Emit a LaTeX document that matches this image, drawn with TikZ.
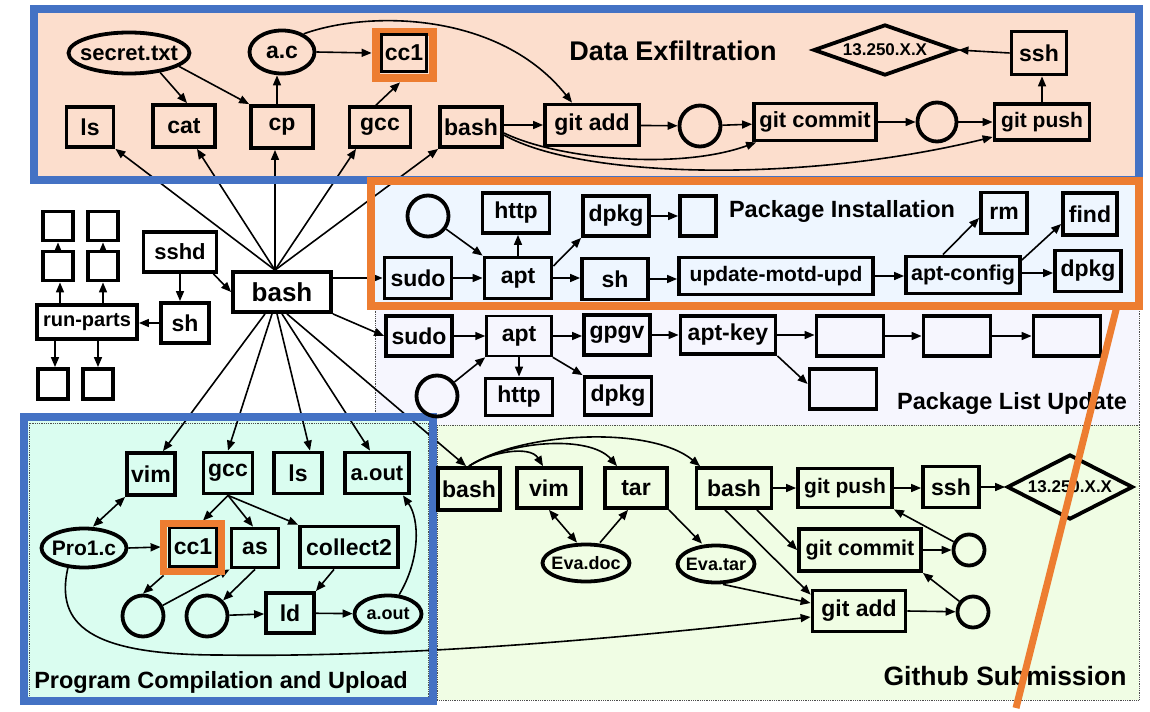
\documentclass[tikz,border=0pt]{standalone}
\usepackage{fontspec}
\setmainfont{Liberation Sans}
\usetikzlibrary{arrows.meta,shapes.geometric,calc}
\pgfdeclarelayer{bg}
\pgfdeclarelayer{edges}
\pgfdeclarelayer{frames}
\pgfdeclarelayer{fg}
\pgfsetlayers{bg,edges,frames,main,fg}

\definecolor{peach}{RGB}{252,222,205}
\definecolor{pkgblue}{RGB}{238,246,255}
\definecolor{lav}{RGB}{246,246,254}
\definecolor{grn}{RGB}{240,253,228}
\definecolor{mint}{RGB}{218,253,240}
\definecolor{bord}{RGB}{68,114,196}
\definecolor{org}{RGB}{237,125,49}

\newcommand\fs[1]{\fontsize{#1}{#1}\selectfont\bfseries}

\begin{document}
\begin{tikzpicture}[x=1pt,y=-1pt,
  bx/.style 2 args={draw, line width=3.8pt, inner sep=0pt, font=\fs{23},
    minimum width=#1pt, minimum height=#2pt},
  el/.style n args={4}{ellipse, draw, line width=3.8pt, inner sep=0pt,
    minimum width=#1pt, minimum height=#2pt, label={[font=\fs{#3}]center:#4}},
  dm/.style n args={3}{diamond, draw, line width=3.8pt, inner sep=0pt,
    minimum width=#1pt, minimum height=#2pt, label={[font=\fs{17}]center:#3}},
  ci/.style={circle, draw, line width=3.8pt, inner sep=0pt, minimum size=#1pt},
  ar/.style={-{Triangle[length=10pt,width=8pt]}, line width=1.6pt},
  dar/.style={{Triangle[length=10pt,width=8pt]}-{Triangle[length=10pt,width=8pt]}, line width=1.6pt},
  region/.style={densely dotted, line width=0.8pt, draw=black!70}
]

% ---------- regions ----------
\begin{pgfonlayer}{bg}
  \fill[white] (0,0) rectangle (1150,705);
  \fill[peach] (34,9) rectangle (1139,180);
  \path[fill=lav, region] (375,181) rectangle (1139,425);
  \path[fill=grn, region] (437,425) rectangle (1139,700);
  \fill[mint] (24,417) rectangle (433,701);
  \draw[region] (29,423) rectangle (428,698);
  \fill[pkgblue] (371,181) rectangle (1139,306);
\end{pgfonlayer}
\begin{pgfonlayer}{frames}
  \draw[bord, line width=7.5pt] (34,9) rectangle (1139,180);
  \draw[bord, line width=8pt] (24,417) rectangle (433,701);
  \draw[org, line width=8pt] (371,181) rectangle (1139,306);
  \draw[org, line width=8pt] (376,32) rectangle (432.5,78);
\end{pgfonlayer}

% ---------- Data Exfiltration ----------
\node[el={121}{41}{22}{secret.txt}] (secret) at (129,53) {};
\node[el={65}{43}{23}{a.c}] (ac) at (282,52) {};
\node[bx={45}{37}] (cc1) at (404,53) {cc1};
\node[bx={47}{40}] (ls1) at (90,127) {ls};
\node[bx={62}{42}] (cat) at (184,126) {cat};
\node[bx={62}{42}] (cp) at (282,127) {cp};
\node[bx={61}{40}] (gcc1) at (380,127) {gcc};
\node[bx={62}{40}] (bash1) at (471,127) {bash};
\node[bx={94}{41}] (ga1) at (592,125) {git add};
\node[ci=41] (c1) at (700,126) {};
\node[bx={122}{37}, font=\fs{22}] (gc1) at (815,122) {git commit};
\node[ci=39] (c2) at (937,122) {};
\node[bx={95}{36}, font=\fs{21}] (gp1) at (1042,122) {git push};
\node[bx={55}{43}] (ssh1) at (1039,53) {ssh};
\node[dm={143}{51}{13.250.X.X}] (dia1) at (885,50) {};
\node[font=\fs{27}] (t-exfil) at (673,51) {Data Exfiltration};

% ---------- central shell ----------
\node[bx={98}{40}, font=\fs{26}] (mb) at (282,292) {bash};
\node[bx={73}{40}, font=\fs{22}] (sshd) at (180,252) {sshd};
\node[bx={48}{40}] (sh0) at (185,323) {sh};
\node[bx={100}{34}, font=\fs{20}] (rp) at (87,322) {run-parts};
\node[bx={30}{29}] (A1) at (58,226) {};
\node[bx={30}{29}] (A2) at (103,226) {};
\node[bx={30}{29}] (B1) at (58,266) {};
\node[bx={30}{29}] (B2) at (103,266) {};
\node[bx={30}{30}] (D1) at (53,384) {};
\node[bx={30}{30}] (D2) at (98,384) {};

% ---------- Package Installation ----------
\node[ci=41] (p1) at (428,216) {};
\node[bx={67}{40}] (http1) at (516,213) {http};
\node[bx={66}{40}] (dpkg1) at (616,216) {dpkg};
\node[bx={36}{40}] (sb) at (698,216) {};
\node[bx={67}{41}] (sudo1) at (418,278) {sudo};
\node[bx={67}{41}] (apt1) at (518,278) {apt};
\node[bx={66}{41}] (sh1) at (615,279) {sh};
\node[bx={194}{37}, font=\fs{21}] (upd) at (776,276) {update-motd-upd};
\node[bx={114}{37}, font=\fs{21.5}] (aptc) at (963,275) {apt-config};
\node[bx={46}{41}] (rm) at (1004,213) {rm};
\node[bx={54}{42}] (find) at (1090,214) {find};
\node[bx={66}{41}] (dpkg3) at (1088,271) {dpkg};
\node[font=\fs{23.5}] (t-inst) at (842,211) {Package Installation};

% ---------- Package List Update ----------
\node[bx={66}{40}] (sudo2) at (419,336) {sudo};
\node[bx={65}{40}, line width=2.5pt] (apt2) at (519,336) {apt};
\node[bx={66}{40}] (gpgv) at (617,335) {gpgv};
\node[bx={95}{38}] (aptkey) at (728,335) {apt-key};
\node[bx={67}{40}] (E1) at (850,336) {};
\node[bx={67}{40}] (E2) at (957,336) {};
\node[bx={67}{40}] (E3) at (1067,336) {};
\node[bx={67}{40}] (E4) at (843,389) {};
\node[ci=41] (p2) at (437,396) {};
\node[bx={67}{37}] (http2) at (519,397) {http};
\node[bx={67}{38}] (dpkg2) at (618,396) {dpkg};
\node[font=\fs{23.5}] (t-list) at (1012,403) {Package List Update};

% ---------- Program Compilation and Upload ----------
\node[bx={48}{42}] (vim2) at (151,474) {vim};
\node[bx={49}{41}] (gcc2) at (228,473) {gcc};
\node[bx={48}{41}] (ls2) at (298,473) {ls};
\node[bx={64}{41}, font=\fs{22}] (aout) at (377,473) {a.out};
\node[el={85}{39}{21}{Pro1.c}] (pro) at (84,548) {};
\node[bx={47}{39}] (cc1b) at (193,547) {cc1};
\node[bx={47}{39}] (as) at (255,548) {as};
\node[bx={98}{41}] (col2) at (349,547) {collect2};
\node[ci=41] (cc1o) at (143,616) {};
\node[ci=41] (cc2o) at (207,616) {};
\node[bx={48}{40}] (ld) at (290,613) {ld};
\node[el={67}{37}{18}{a.out}] (aout2) at (388,614) {};
\node[font=\fs{23.5}] (t-comp) at (221,682) {Program Compilation and Upload};

% ---------- Github Submission ----------
\node[bx={62}{42}] (gb1) at (469,489) {bash};
\node[bx={64}{40}] (vim3) at (549,488) {vim};
\node[bx={62}{40}] (tar) at (636,488) {tar};
\node[bx={75}{40}] (gb2) at (734,488) {bash};
\node[el={87}{37}{18}{Eva.doc}] (evadoc) at (586,563) {};
\node[el={77}{37}{18}{Eva.tar}] (evatar) at (716,564) {};
\node[bx={94}{39}, font=\fs{21}] (gpG) at (845,488) {git push};
\node[bx={56}{41}] (sshG) at (951,487) {ssh};
\node[dm={126}{65}{13.250.X.X}] (diaG) at (1070,487) {};
\node[bx={122}{42}, font=\fs{21.5}] (gcG) at (860,550) {git commit};
\node[ci=31] (cg1) at (969,550) {};
\node[bx={93}{41}] (gaG) at (859,611) {git add};
\node[ci=31] (cg2) at (973,612) {};
\node[font=\fs{26.5}] (t-git) at (1005,676) {Github Submission};

% ---------- connectors ----------
\begin{pgfonlayer}{edges}
  % data exfiltration
  \draw[ar] (secret.-32) -- ([xshift=3pt]cat.north);
  \draw[ar] (secret.-15) -- (cp.north west);
  \draw[ar] ([xshift=-5pt]cp.north) -- ([xshift=-5pt]cp.north |- ac.south);
  \draw[ar] (ac.east) -- ([xshift=-8pt]cc1.west);
  \draw[ar] ([xshift=-4pt]gcc1.north) -- ([xshift=-4pt,yshift=-9pt]cc1.south);
  \draw[ar] (ac.40) .. controls (370,10) and (500,12) .. ([xshift=-20pt]ga1.north);
  \draw[ar] (bash1.east |- ga1.west) -- (ga1.west);
  \draw[ar] (ga1) -- (c1);
  \draw[ar] (c1) -- (gc1);
  \draw[ar] (gc1) -- (c2);
  \draw[ar] (c2) -- (gp1);
  \draw[ar] ([yshift=-6pt]bash1.east) .. controls (560,160) and (680,170) .. ([xshift=4pt]gc1.south west);
  \draw[ar] ([yshift=-8pt]bash1.east) .. controls (580,178) and (800,184) .. ([yshift=-15pt]gp1.west);
  \draw[ar] (gp1.north) -- (gp1.north |- ssh1.south);
  \draw[ar] (ssh1.west) -- (dia1.east);

  % central shell fan-out
  \draw[ar] ([xshift=-7pt]mb.north) -- (ls1.south east);
  \draw[ar] ([xshift=-7pt]mb.north) -- ([xshift=13pt]cat.south);
  \draw[ar] ([xshift=-7pt]mb.north) -- ([xshift=-7pt]cp.south);
  \draw[ar] ([xshift=-7pt]mb.north) -- ([xshift=-24pt]gcc1.south);
  \draw[ar] ([xshift=-7pt]mb.north) -- (bash1.south west);
  \draw[ar] (mb.east |- sudo1.west) -- (sudo1.west);
  \draw[ar] (mb.south east) -- (sudo2.west);
  \draw[ar] ([xshift=-17pt]mb.south) -- ([xshift=12pt]vim2.north);
  \draw[ar] ([xshift=-10pt]mb.south) -- (gcc2.north);
  \draw[ar] ([xshift=-5pt]mb.south) -- ([xshift=12pt]ls2.north);
  \draw[ar] (mb.south) -- ([xshift=-7pt]aout.north);
  \draw[ar] ([xshift=5pt]mb.south) -- ([xshift=-3pt]gb1.north);

  \draw[ar] ([xshift=-5pt]sshd.south east) -- (mb.west);
  \draw[ar] (sshd.south) -- (sshd.south |- sh0.north);
  \draw[ar] (sh0.west) -- (sh0.west -| rp.east);
  \draw[ar] ([xshift=2pt]B1.south |- rp.north) -- ([xshift=2pt]B1.south);
  \draw[ar] (B2.south |- rp.north) -- (B2.south);
  \draw[ar] (B1.north) -- (A1.south);
  \draw[ar] (B2.north) -- (A2.south);
  \draw[ar] ([xshift=2pt]D1.north |- rp.south) -- ([xshift=2pt]D1.north);
  \draw[ar] (D2.north |- rp.south) -- (D2.north);

  % package installation
  \draw[ar] (p1) -- (apt1.north west);
  \draw[ar] (apt1.north) -- (apt1.north |- http1.south);
  \draw[ar] ([yshift=12pt]apt1.east) -- (dpkg1.south west);
  \draw[ar] (dpkg1.east) -- (dpkg1.east -| sb.west);
  \draw[ar] (sudo1.east) -- (sudo1.east -| apt1.west);
  \draw[ar] (apt1.east) -- (apt1.east -| sh1.west);
  \draw[ar] (sh1.east) -- (sh1.east -| upd.west);
  \draw[ar] (upd.east) -- (upd.east -| aptc.west);
  \draw[ar] ([xshift=-20pt]aptc.north) -- ([yshift=-5pt]rm.west);
  \draw[ar] ([yshift=15pt]aptc.east) -- ([yshift=-10pt]find.west);
  \draw[ar] ([yshift=2pt]aptc.east) -- ([yshift=2pt]aptc.east -| dpkg3.west);

  % package list update
  \draw[ar] (sudo2.east) -- (sudo2.east -| apt2.west);
  \draw[ar] (apt2.east) -- (apt2.east -| gpgv.west);
  \draw[ar] (gpgv.east) -- (gpgv.east -| aptkey.west);
  \draw[ar] (aptkey.east) -- (aptkey.east -| E1.west);
  \draw[ar] (E1.east) -- (E2.west);
  \draw[ar] (E2.east) -- (E3.west);
  \draw[ar] (aptkey.south east) -- ([yshift=5pt]E4.west);
  \draw[ar] (p2) -- (apt2.south west);
  \draw[ar] (apt2.south) -- (apt2.south |- http2.north);
  \draw[ar] (apt2.south east) -- (dpkg2.north west);

  % program compilation and upload
  \draw[dar] (vim2.south west) -- ([xshift=9pt]pro.north);
  \draw[ar] (pro.east) -- ([xshift=-7pt]cc1b.west);
  \draw[ar] (gcc2.south) -- ([xshift=10pt,yshift=5pt]cc1b.north);
  \draw[ar] (gcc2.south) -- ([xshift=-2pt]as.north);
  \draw[ar] (gcc2.south) -- (col2.north west);
  \draw[ar] ([xshift=-4pt,yshift=-7pt]cc1b.south west) -- (cc1o.north);
  \draw[ar] (cc1o) -- (as.south west);
  \draw[ar] (as.south) -- (cc2o);
  \draw[ar] (cc2o) -- (ld);
  \draw[ar] ([xshift=-15pt]col2.south) -- (ld.north east);
  \draw[ar] (ld) -- (aout2);
  \draw[ar] (aout2.60) .. controls (420,560) and (420,520) .. ([xshift=26pt]aout.south);
  \draw[ar] (pro.231) .. controls (55,625) and (90,655) .. (220,655)
            .. controls (420,658) and (650,635) .. ([yshift=-6pt]gaG.west);

  % github submission
  \draw[ar] (gb1.north) .. controls (490,452) and (530,445) .. ([xshift=-6pt]vim3.north);
  \draw[ar] (gb1.north) .. controls (510,440) and (590,435) .. ([xshift=-19pt]tar.north);
  \draw[ar] (gb1.north) .. controls (520,432) and (650,425) .. ([xshift=-34pt]gb2.north);
  \draw[dar] (vim3.south) -- ([xshift=-9pt]evadoc.north);
  \draw[ar] ([xshift=14pt]evadoc.north) -- ([xshift=-8pt]tar.south);
  \draw[ar] (tar.south east) -- ([xshift=-14pt]evatar.north);
  \draw[ar] ([xshift=7pt]evatar.south) -- ([yshift=8pt]gaG.west);
  \draw[ar] (gb2.east) -- (gb2.east -| gpG.west);
  \draw[ar] ([xshift=23pt]gb2.south) -- (gcG.west);
  \draw[ar] ([xshift=-9pt]gb2.south) -- ([yshift=-6pt]gaG.north west);
  \draw[ar] (gpG.east) -- (gpG.east -| sshG.west);
  \draw[ar] (sshG.east) -- (diaG.west);
  \draw[ar] (gcG.east) -- (cg1);
  \draw[ar] (cg1) -- (gpG.south east);
  \draw[ar] (gaG.east) -- (cg2);
  \draw[ar] (cg2) -- (gcG.south east);
\end{pgfonlayer}

% ---------- highlights ----------
\begin{pgfonlayer}{fg}
  \draw[org, line width=7pt] (163.5,523.5) rectangle (221.5,571.5);
  \draw[org, line width=7pt] (1117,306) -- (1016,708);
\end{pgfonlayer}

\useasboundingbox (0,0) rectangle (1150,705);
\end{tikzpicture}
\end{document}
